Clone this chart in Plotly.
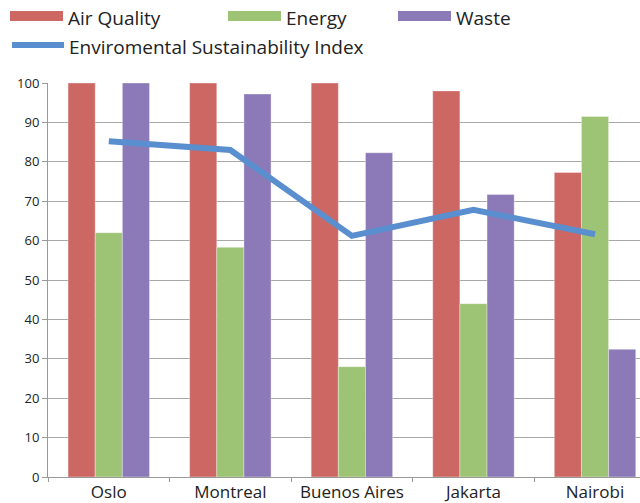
import plotly.graph_objects as go

cities = ["Oslo", "Montreal", "Buenos Aires", "Jakarta", "Nairobi"]
air_quality = [100, 100, 100, 98, 77.3]
energy = [62, 58.3, 28, 44, 91.5]
waste = [100, 97.2, 82.3, 71.7, 32.4]
esi = [85.2, 83, 61.2, 67.8, 61.6]

bar_names = ["Air Quality", "Energy", "Waste"]
bar_colors = ["#CD6764", "#9DC375", "#8B79B8"]
line_name = "Enviromental Sustainability Index"
line_color = "#5A8FCF"

W, H = 640, 503
ML, MR, MT, MB = 48, 0, 83, 26
PW, PH = W - ML - MR, H - MT - MB
FONT = "Open Sans"

fig = go.Figure()
for name, vals, col in zip(bar_names, [air_quality, energy, waste], bar_colors):
    fig.add_trace(go.Bar(x=cities, y=vals, name=name, marker_color=col,
                         marker_line=dict(color="rgba(255,255,255,0.35)", width=1),
                         showlegend=False))
fig.add_trace(go.Scatter(x=cities, y=esi, name=line_name, mode="lines",
                         line=dict(color=line_color, width=6), showlegend=False))


def px(x):
    return (x - ML) / PW


def py(y):
    return (MT + PH - y) / PH


# legend drawn as swatches and labels above the plot area
legend_rows = [(bar_names[0], bar_colors[0], 10, 16), (bar_names[1], bar_colors[1], 228, 16),
               (bar_names[2], bar_colors[2], 398, 16)]
shapes = []
annotations = []
for name, col, x0, yc in legend_rows:
    shapes.append(dict(type="rect", xref="paper", yref="paper",
                       x0=px(x0), x1=px(x0 + 53), y0=py(yc + 5), y1=py(yc - 5),
                       fillcolor=col, line=dict(width=0)))
    annotations.append(dict(xref="paper", yref="paper", x=px(x0 + 56), y=py(yc + 2),
                            text=name, showarrow=False, xanchor="left", yanchor="middle",
                            font=dict(family=FONT, size=19, color="#222222")))
shapes.append(dict(type="line", xref="paper", yref="paper",
                   x0=px(12), x1=px(64), y0=py(45), y1=py(45),
                   line=dict(color=line_color, width=6)))
annotations.append(dict(xref="paper", yref="paper", x=px(67), y=py(47),
                        text=line_name, showarrow=False, xanchor="left", yanchor="middle",
                        font=dict(family=FONT, size=19, color="#222222")))

fig.update_layout(
    width=W, height=H,
    margin=dict(l=ML, r=MR, t=MT, b=MB, pad=0),
    paper_bgcolor="white", plot_bgcolor="white",
    barmode="group", bargap=0.33, bargroupgap=0,
    shapes=shapes, annotations=annotations,
    font=dict(family=FONT, color="#222222"),
)
fig.update_xaxes(range=[-0.5, 4.37], showline=True, linecolor="#9A9A9A", linewidth=1,
                 ticks="outside", tickson="boundaries", ticklen=4, tickcolor="#9A9A9A",
                 automargin=False,
                 tickfont=dict(family=FONT, size=17, color="#222222"), showgrid=False)
fig.update_yaxes(range=[0, 100], dtick=10, showline=True, linecolor="#9A9A9A", linewidth=1,
                 ticks="outside", ticklen=5, tickcolor="#9A9A9A", automargin=False,
                 showgrid=True, gridcolor="#A8A8A8", gridwidth=1, zeroline=False,
                 tickfont=dict(family=FONT, size=13, color="#222222"))

fig.write_html("out.html")
